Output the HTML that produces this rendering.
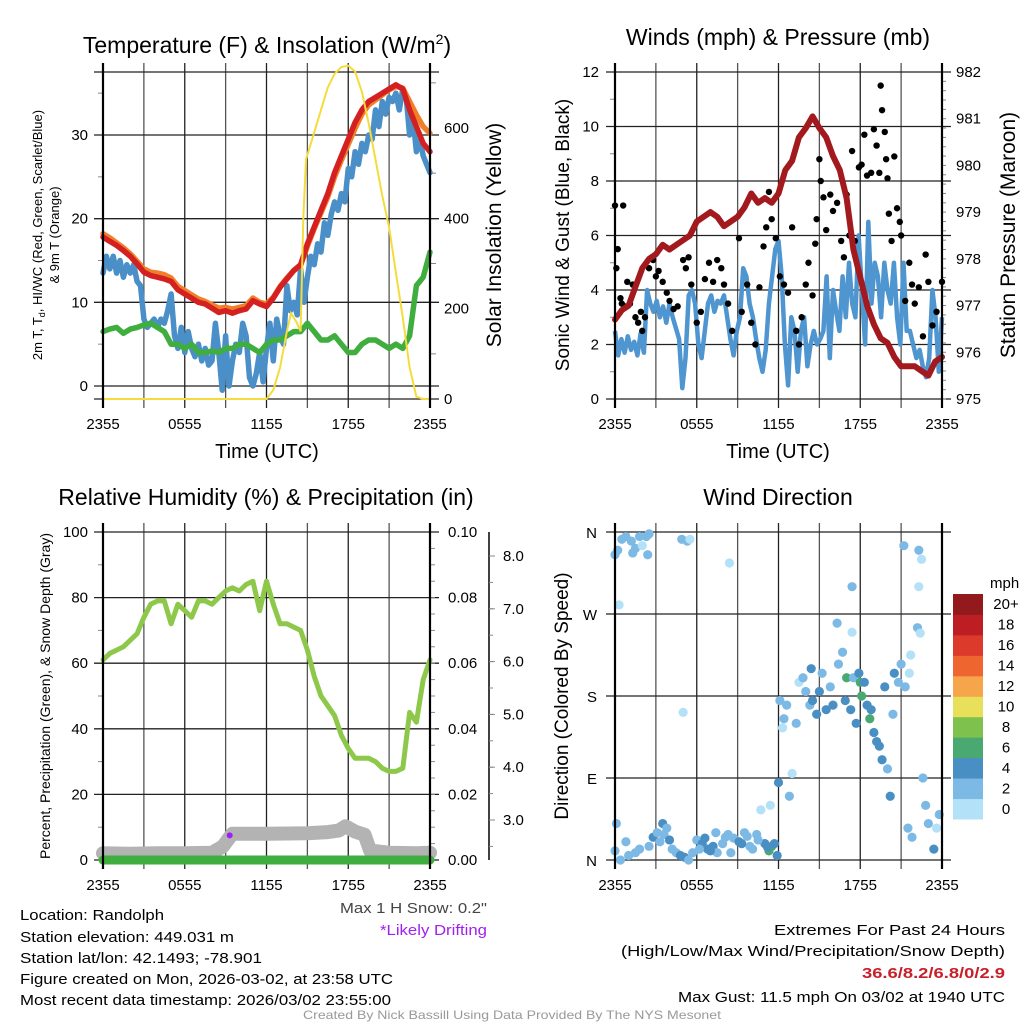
<!DOCTYPE html>
<html><head><meta charset="utf-8"><style>
html,body{margin:0;padding:0;background:#fff}
svg{display:block;font-family:"Liberation Sans",sans-serif}
</style></head><body>
<svg id="fig" width="1024" height="1024" viewBox="0 0 1024 1024">
<rect x="0" y="0" width="1024" height="1024" fill="#fff"/>
<g id="p1"></g>
<g id="p2"></g>
<g id="p3"></g>
<g id="p4"></g>

<text x="267" y="53" font-size="23" text-anchor="middle">Temperature (F) &amp; Insolation (W/m<tspan font-size="14" dy="-9">2</tspan><tspan dy="9">)</tspan></text>
<text x="778" y="45" font-size="23" text-anchor="middle">Winds (mph) &amp; Pressure (mb)</text>
<text x="266" y="505" font-size="23" text-anchor="middle">Relative Humidity (%) &amp; Precipitation (in)</text>
<text x="778" y="505" font-size="23" text-anchor="middle">Wind Direction</text>

<text x="267" y="458" font-size="20" text-anchor="middle">Time (UTC)</text>
<text x="778" y="458" font-size="20" text-anchor="middle">Time (UTC)</text>

<text transform="translate(42,235) rotate(-90)" font-size="13" text-anchor="middle">2m T, T<tspan font-size="9" dy="3">d</tspan><tspan dy="-3">, HI/WC (Red, Green, Scarlet/Blue)</tspan></text>
<text transform="translate(59,235) rotate(-90)" font-size="13" text-anchor="middle">&amp; 9m T (Orange)</text>
<text transform="translate(501,235) rotate(-90)" font-size="21" text-anchor="middle">Solar Insolation (Yellow)</text>
<text transform="translate(569,235) rotate(-90)" font-size="19" text-anchor="middle">Sonic Wind &amp; Gust (Blue, Black)</text>
<text transform="translate(1015,235) rotate(-90)" font-size="21" text-anchor="middle">Station Pressure (Maroon)</text>
<text transform="translate(50,696) rotate(-90)" font-size="14" text-anchor="middle">Percent, Precipitation (Green), &amp; Snow Depth (Gray)</text>
<text transform="translate(568,696) rotate(-90)" font-size="19" text-anchor="middle">Direction (Colored By Speed)</text>
<text x="990" y="588" font-size="15">mph</text>

<g font-size="15">
<text x="20" y="920" textLength="144" lengthAdjust="spacingAndGlyphs">Location: Randolph</text>
<text x="20" y="942" textLength="214" lengthAdjust="spacingAndGlyphs">Station elevation: 449.031 m</text>
<text x="20" y="963" textLength="242" lengthAdjust="spacingAndGlyphs">Station lat/lon: 42.1493; -78.901</text>
<text x="20" y="984" textLength="373" lengthAdjust="spacingAndGlyphs">Figure created on Mon, 2026-03-02, at 23:58 UTC</text>
<text x="20" y="1005" textLength="371" lengthAdjust="spacingAndGlyphs">Most recent data timestamp: 2026/03/02 23:55:00</text>
<text x="340" y="913" fill="#444" textLength="147" lengthAdjust="spacingAndGlyphs">Max 1 H Snow: 0.2"</text>
<text x="380" y="935" fill="#a020f0" textLength="107" lengthAdjust="spacingAndGlyphs">*Likely Drifting</text>
<text x="774" y="935" textLength="231" lengthAdjust="spacingAndGlyphs">Extremes For Past 24 Hours</text>
<text x="621" y="956" textLength="384" lengthAdjust="spacingAndGlyphs">(High/Low/Max Wind/Precipitation/Snow Depth)</text>
<text x="862" y="978" fill="#c8202a" font-weight="bold" textLength="143" lengthAdjust="spacingAndGlyphs">36.6/8.2/6.8/0/2.9</text>
<text x="678" y="1002" textLength="327" lengthAdjust="spacingAndGlyphs">Max Gust: 11.5 mph On 03/02 at 1940 UTC</text>
<text x="303" y="1019" font-size="12" fill="#999" textLength="418" lengthAdjust="spacingAndGlyphs">Created By Nick Bassill Using Data Provided By The NYS Mesonet</text>
</g>
</svg>
<script>
// ---------- DATA ----------
var timeTicks = ["2355","0555","1155","1755","2355"];
var hh = [0,0.5,1,1.5,2,2.5,3,3.5,4,4.5,5,5.5,6,6.5,7,7.5,8,8.5,9,9.5,10,10.5,11,11.5,12,12.5,13,13.5,14,14.5,15,15.5,16,16.5,17,17.5,18,18.5,19,19.5,20,20.5,21,21.5,22,22.5,23,23.5,24];
var tempRed = [17.8,17.3,16.8,16.2,15.5,14.6,13.6,13.2,13.0,12.8,12.5,11.5,11.0,10.5,10.0,9.8,9.3,8.8,9.0,8.7,9.0,9.2,10.2,9.8,9.5,10.5,11.8,12.8,13.8,14.5,17.0,19.0,21.0,23.0,25.5,27.5,29.5,31.5,33.0,34.0,34.5,35.0,35.5,36.0,35.5,33.0,31.0,29.0,28.0];
var temp9m = [18.2,17.7,17.1,16.5,15.8,14.9,14.0,13.6,13.5,13.3,12.9,11.9,11.4,10.9,10.4,10.1,9.7,9.3,9.4,9.2,9.4,9.6,10.5,10.0,9.8,10.6,11.9,12.9,13.8,14.4,16.7,18.8,20.7,22.6,25.0,27.0,28.9,30.8,32.5,33.6,34.2,34.8,35.4,35.8,35.6,34.0,32.4,31.0,30.2];
var dewT = [0,0.25,0.5,0.75,1,1.25,1.5,1.75,2,2.25,2.5,2.75,3,3.25,3.5,3.75,4,4.25,4.5,4.75,5,5.25,5.5,5.75,6,6.25,6.5,6.75,7,7.25,7.5,7.75,8,8.25,8.5,8.75,9,9.25,9.5,9.75,10,10.25,10.5,10.75,11,11.25,11.5,11.75,12,12.25,12.5,12.75,13,13.25,13.5,13.75,14,14.25,14.5,14.75,15,15.25,15.5,15.75,16,16.25,16.5,16.75,17,17.25,17.5,17.75,18,18.25,18.5,18.75,19,19.25,19.5,19.75,20,20.25,20.5,20.75,21,21.25,21.5,21.75,22,22.25,22.5,22.75,23,23.25,23.5,23.75,24];
var dewBlue = [13.5,15.5,14,15.5,13.5,15,13,14.5,13.5,14.5,12.5,12,8,7,7.5,8,7,8,7.5,9,11,6,4.5,7,4,6.5,4.5,3.5,5,3,4.5,2.5,3,7.5,4,-0.5,6,0,3,5,4,7.5,6,1,0,1.5,4,0.5,4.5,7.5,3,8,6,5,12,9,10,8.5,14,10,13,15.5,14.5,17,16,19.5,18,20.5,22,21,23,22,26,25,28,26.5,29,28,30,29.5,33,31,34,32.5,34.5,34,35,33,35.5,34.5,30,32,28,29.5,27.5,26.5,25.5];
var chillGreen = [6.5,6.8,7,6.3,6.8,7,7.3,7.5,7,6.5,5,5,4.5,5,4,4,4.2,4,4.5,4.5,5,5,4.5,4,5,5.5,5.5,6,6.5,6.5,7.5,6.5,5.5,5.5,6,5,4,4,5,5.5,5.5,5,4.5,5,4.5,6,12,13,16];
var solarT = [0,12,12.5,13,13.5,13.8,14.2,14.5,14.7,14.9,15.5,16,16.5,17,17.5,18,18.5,19,19.5,20,20.5,21,21.5,22,22.5,23,23.5,24];
var solarW = [0,0,20,70,150,190,170,150,400,530,590,640,690,720,735,738,725,680,610,530,450,380,280,180,70,5,0,0];

var pressure = [976.7,976.9,977.0,977.4,977.8,978.0,978.1,978.3,978.2,978.3,978.4,978.5,978.8,978.9,979.0,978.9,978.7,978.8,978.9,979.1,979.4,979.2,979.3,979.2,979.4,979.9,980.1,980.6,980.8,981.05,980.8,980.6,980.2,979.9,979.3,978.2,977.6,977.0,976.6,976.3,976.2,975.9,975.7,975.7,975.7,975.6,975.5,975.8,975.9];
var windSpeed = [2.5,1.6,2.2,1.7,2.3,1.8,2.1,1.6,2.4,1.7,4.0,3.5,3.2,3.6,3.0,3.4,2.8,3.5,3.0,2.6,2.2,0.4,1.5,3.8,4.0,3.5,2.0,1.5,2.5,3.5,3.8,3.2,3.6,3.5,3.8,3.0,2.2,1.6,2.5,3.0,4.8,4.5,3.5,3.0,2.2,1.5,1.0,1.8,3.5,4.5,5.5,5.8,4.5,2.0,0.5,3.0,2.5,1.0,2.5,3.0,1.2,2.0,2.5,2.0,2.2,2.5,4.5,1.5,4.0,3.2,2.5,4.5,3.0,5.0,3.5,3.0,6.0,4.0,2.0,6.5,3.5,5.0,4.5,3.0,5.0,4.0,3.5,5.0,3.0,2.0,5.0,2.5,2.5,2.0,1.5,1.8,1.2,0.8,1.5,4.0,3.0,1.0,3.0];
var gustT = [0,0.1,0.2,0.4,0.5,0.6,0.7,0.9,1.1,1.3,1.5,1.7,1.9,2.0,2.2,2.5,2.8,3.0,3.2,3.5,3.8,4.0,4.3,4.6,5.0,5.2,5.4,5.6,6.0,6.3,6.6,6.9,7.2,7.5,7.8,8.0,8.3,8.6,9.1,9.3,9.7,10.0,10.3,10.6,10.9,11.1,11.3,11.5,11.8,12.1,12.4,12.7,13.0,13.3,13.5,13.7,14.0,14.2,14.5,14.7,14.8,15.0,15.1,15.3,15.5,15.8,16.0,16.3,16.6,16.8,17.0,17.2,17.4,17.6,17.9,18.1,18.3,18.5,18.8,19.0,19.2,19.4,19.5,19.6,19.8,19.9,20.0,20.1,20.3,20.5,20.7,20.9,21.0,21.3,21.6,21.8,22.0,22.3,22.6,22.8,23.0,23.3,23.6,24.0];
var gustV = [7.1,4.8,5.5,3.7,3.5,7.1,3.4,4.3,3.5,4.2,3.0,2.8,3.2,2.5,3.0,4.8,5.1,4.5,4.7,4.3,3.9,3.6,3.3,3.4,5.1,4.8,5.2,4.2,2.8,3.2,4.4,5.0,4.3,5.1,4.8,4.2,3.5,2.5,5.9,3.2,4.2,2.8,2.0,4.1,5.6,6.3,7.6,6.6,5.9,4.5,4.2,3.9,6.3,2.5,2.0,3.0,4.2,5.0,3.8,5.7,6.6,8.8,8.0,7.4,6.2,7.5,6.9,7.2,5.8,5.2,7.5,6.0,9.1,5.8,8.5,8.6,9.7,8.2,8.3,9.9,9.3,8.3,11.5,10.6,9.8,8.8,8.1,6.8,5.8,8.9,7.0,6.5,6.0,3.6,5.0,4.2,3.5,4.1,2.3,5.3,4.3,2.7,3.2,4.3];

var rh = [61,63,64,65,67,69,74,78,79,79,72,78,76,74,79,79,78,80,82,83,82,84,85,76,85,78,72,72,71,70,64,56,50,47,44,38,34,31,31,31,30,28,27,27,28,45,42,55,61];
var snowT = [0,2,4,6,8,8.8,9.5,12,15,16.5,17.3,17.8,18.5,19.2,19.6,21,23,24];
var snowD = [2.37,2.36,2.37,2.37,2.38,2.5,2.74,2.74,2.75,2.77,2.8,2.88,2.78,2.72,2.42,2.38,2.37,2.38];
var precip = [0,0,0,0,0,0,0,0,0,0,0,0,0,0,0,0,0,0,0,0,0,0,0,0,0];
var driftT = [9.3];
var driftPct = [7.5];
var pctTicks = [0,20,40,60,80,100];
var precipTicks = ["0.00","0.02","0.04","0.06","0.08","0.10"];
var snowTicks = [3,4,5,6,7,8];

var dirT = [0,0.2,0.5,0.8,1.2,1.5,1.8,2.0,2.3,2.5,2.4,1.3,0.3,0,0.1,0.4,0.8,1.0,1.5,1.8,2.5,2.8,3.1,3.5,3.8,4.2,4.5,4.8,5.1,5.4,5.7,6.0,6.4,6.8,7.2,7.5,7.9,8.3,8.7,9.1,9.5,9.9,10.4,10.7,11.0,11.3,11.5,11.7,11.9,4.9,5.3,5.5,8.4,5.0,12.0,12.3,12.4,12.1,12.6,12.8,13.0,13.3,13.5,13.8,14.0,14.3,14.5,14.8,15.0,15.2,15.5,15.8,16.0,16.3,16.4,16.7,16.9,17.0,17.3,17.5,17.7,17.9,18.0,18.1,18.3,18.5,18.7,18.8,19.0,19.2,19.4,19.6,19.8,20.0,20.2,20.4,20.5,20.8,21.0,21.3,21.6,21.7,17.4,14.4,17.4,11.4,21.2,22.3,22.5,22.3,22.2,22.4,22.6,22.8,23.0,21.5,21.8,23.4,23.6,23.8,3.3,3.6,4.0,6.2,6.6,7.0,7.4,8.1,8.5,9.3,9.7,10.1,10.5,11.2];
var dirDeg = [335,340,352,355,350,342,355,345,355,358,335,337,280,10,40,0,20,5,8,12,15,25,30,40,35,12,8,5,3,0,8,22,18,12,15,8,18,28,24,20,30,15,28,55,18,10,15,18,5,352,350,352,326,162,85,145,155,175,170,70,95,150,195,200,185,170,175,160,185,205,165,190,170,260,215,228,175,200,165,200,150,205,195,180,195,170,155,165,140,130,125,110,190,100,70,160,205,195,215,190,205,225,250,210,300,60,345,340,330,300,255,249,90,60,40,35,25,12,35,50,20,28,22,12,24,10,30,25,8,18,26,12,22,14];
var dirSpd = [3,3,3,3,3,3,3,1,3,3,3,3,1,3,3,3,3,3,3,3,3,4,3,4,3,3,3,4,4,3,3,3,4,4,4,3,3,3,3,4,3,3,3,1,4,6,6,4,4,3,3,1,1,1,4,1,3,3,3,3,1,3,1,3,3,3,4,4,4,3,4,3,4,3,3,3,4,6,4,3,4,4,6,6,4,4,6,4,4,4,4,4,4,3,4,3,4,3,3,3,1,1,1,4,3,1,3,3,1,1,3,1,3,3,3,3,3,4,1,3,3,3,4,3,4,4,3,3,3,4,3,3,3,4];
var dirTicks = ["N","E","S","W","N"];
var cbLabels = ["0","2","4","6","8","10","12","14","16","18","20+"];
var cbColors = ["#b3e1f7","#7cb9e4","#4a8fc4","#4aa872","#7ec14c","#e8e05a","#f6a54a","#ef6530","#dc3a2a","#bd1e24","#921a1d"];

// ---------- HELPERS ----------
var NS="http://www.w3.org/2000/svg";
function mk(tag, at, parent){var e=document.createElementNS(NS,tag);for(var k in at)e.setAttribute(k,at[k]);parent.appendChild(e);return e;}
function lin(d0,d1,r0,r1){return function(v){return r0+(v-d0)/(d1-d0)*(r1-r0);};}
function pathD(xs,ys,sx,sy){var s="";for(var i=0;i<xs.length;i++){s+=(i?"L":"M")+sx(xs[i]).toFixed(1)+","+sy(ys[i]).toFixed(1);}return s;}
function idxT(arr){var o=[];for(var i=0;i<arr.length;i++)o.push(i*24/(arr.length-1));return o;}

function frame(g, X0, X1, Y0, Y1, hLines){
  var sx=lin(0,24,X0,X1);
  for(var h=0;h<=24;h+=3){
    var l=mk("line",{x1:sx(h),x2:sx(h),y1:Y0-9,y2:Y1+9,stroke:(h%6==0?"#222":"#555"),"stroke-width":1.3},g);
    
    
  }
  for(var i=0;i<hLines.length;i++){
    var hl=mk("line",{x1:X0-9,x2:X1+9,y1:hLines[i],y2:hLines[i],stroke:"#222","stroke-width":1.3},g);
    
    
  }
  for(var j=0;j<timeTicks.length;j++){
    var t=mk("text",{x:sx(j*6),y:Y1+30,"font-size":15,"text-anchor":"middle"},g);
    t.textContent=timeTicks[j];
    
    
  }
  return sx;
}
function axisLines(g,X0,X1,Y0,Y1){
  var a=mk("line",{x1:X0,x2:X0,y1:Y0-9,y2:Y1+9,stroke:"#000","stroke-width":2.2},g);
  
  
  var b=mk("line",{x1:X1,x2:X1,y1:Y0-9,y2:Y1+9,stroke:"#000","stroke-width":2.2},g);
  
  
}
function label(g,x,y,txt,anchor,size){
  var t=mk("text",{x:x,y:y,"font-size":size||15,"text-anchor":anchor},g);
  t.textContent=txt;
  
  
  return t;
}
function minor(g,x,y,len){
  var m=mk("line",{x1:x,x2:x+len,y1:y,y2:y,stroke:"#888","stroke-width":1},g);
  
  
}

// ---------- PANEL 1 ----------
(function(){
  var g=document.getElementById("p1");
  var X0=103,X1=430,Y0=72,Y1=399;
  var syT=lin(0,30,386,135), syS=lin(0,600,399,128);
  var sx=frame(g,X0,X1,Y0,Y1,[Y0,syT(0),syT(10),syT(20),syT(30),Y1]);
  for(var v=0;v<=30;v+=10)label(g,88,syT(v)+5,String(v),"end");
  for(var w=0;w<=600;w+=200)label(g,444,syS(w)+5,String(w),"start");
  for(var w2=100;w2<=700;w2+=200)minor(g,X1,syS(w2),6);
  for(var v2=5;v2<=35;v2+=10)minor(g,X0-5,syT(v2),5);
  var series=[[dewT,dewBlue,"#4a8fc8","dewpoint-line"],[hh,chillGreen,"#3fae3f","windchill-line"],[hh,temp9m,"#f07f2a","temp-9m-line"],[hh,tempRed,"#d42020","temp-2m-line"]];
  for(var i=0;i<series.length;i++){
    var p=mk("path",{d:pathD(series[i][0],series[i][1],sx,syT),fill:"none",stroke:series[i][2],"stroke-width":5.5,"stroke-linejoin":"round","stroke-linecap":"round"},g);
    
    
  }
  var s=mk("path",{d:pathD(solarT,solarW,sx,syS),fill:"none",stroke:"#f5dc3c","stroke-width":2},g);
  
  
  axisLines(g,X0,X1,Y0,Y1);
})();

// ---------- PANEL 2 ----------
(function(){
  var g=document.getElementById("p2");
  var X0=615,X1=942,Y0=72,Y1=399;
  var syW=lin(0,12,399,72), syP=lin(975,982,399,72);
  var hl=[];for(var v=0;v<=12;v+=2)hl.push(syW(v));
  var sx=frame(g,X0,X1,Y0,Y1,hl);
  for(var v1=0;v1<=12;v1+=2)label(g,599,syW(v1)+5,String(v1),"end");
  for(var p=975;p<=982;p++)label(g,956,syP(p)+5,String(p),"start");
  for(var v3=1;v3<12;v3+=2)minor(g,X0-5,syW(v3),5);
  for(var p2=975;p2<982;p2+=0.2)minor(g,X1,syP(p2),4);
  var wl=mk("path",{d:pathD(idxT(windSpeed),windSpeed,sx,syW),fill:"none",stroke:"#4f95d0","stroke-width":4.5,"stroke-linejoin":"round"},g);
  
  
  for(var i=0;i<gustT.length;i++){
    var c=mk("circle",{cx:sx(gustT[i]),cy:syW(gustV[i]),r:3.2,fill:"#000"},g);
    
    
  }
  var pl=mk("path",{d:pathD(hh,pressure,sx,syP),fill:"none",stroke:"#a31a1e","stroke-width":6,"stroke-linejoin":"round","stroke-linecap":"round"},g);
  
  
  axisLines(g,X0,X1,Y0,Y1);
})();

// ---------- PANEL 3 ----------
(function(){
  var g=document.getElementById("p3");
  var X0=103,X1=430,Y0=532,Y1=860;
  var syR=lin(0,100,860,532), sySn=lin(3,8,820,556);
  var hl=[];for(var i=0;i<pctTicks.length;i++)hl.push(syR(pctTicks[i]));
  var sx=frame(g,X0,X1,Y0,Y1,hl);
  for(var j=0;j<pctTicks.length;j++){label(g,88,syR(pctTicks[j])+5,String(pctTicks[j]),"end");label(g,448,syR(pctTicks[j])+5,precipTicks[j],"start");}
  for(var m=10;m<100;m+=20)minor(g,X0-5,syR(m),5);
  for(var m2=5;m2<100;m2+=5)minor(g,X1,syR(m2),5);
  var sa=mk("line",{x1:489,x2:489,y1:532,y2:860,stroke:"#000","stroke-width":1.5},g);
  
  
  for(var k=0;k<snowTicks.length;k++){minor(g,489,sySn(snowTicks[k]),6);label(g,503,sySn(snowTicks[k])+5,snowTicks[k].toFixed(1),"start");}
  for(var k2=2.5;k2<8.5;k2+=0.5)minor(g,489,sySn(k2),4);
  var gr=mk("path",{d:pathD(snowT,snowD,sx,sySn),fill:"none",stroke:"#b3b3b3","stroke-width":14,"stroke-linejoin":"round","stroke-linecap":"round"},g);
  
  
  var pr=mk("path",{d:pathD(idxT(precip),precip.map(function(v){return v*1000;}),sx,syR),fill:"none",stroke:"#3fae3f","stroke-width":9,"stroke-linecap":"round"},g);
  
  
  var rl=mk("path",{d:pathD(hh,rh,sx,syR),fill:"none",stroke:"#8dc84a","stroke-width":5,"stroke-linejoin":"round","stroke-linecap":"round"},g);
  
  
  for(var d=0;d<driftT.length;d++){
    var dm=mk("circle",{cx:sx(driftT[d]),cy:syR(driftPct[d]),r:3,fill:"#a020f0"},g);
    
    
  }
  axisLines(g,X0,X1,Y0,Y1);
})();

// ---------- PANEL 4 ----------
(function(){
  var g=document.getElementById("p4");
  var X0=615,X1=942,Y0=532,Y1=860;
  var syD=lin(0,360,860,532);
  var hl=[];for(var i=0;i<dirTicks.length;i++)hl.push(syD(i*90));
  var sx=frame(g,X0,X1,Y0,Y1,hl);
  for(var j=0;j<dirTicks.length;j++)label(g,597,syD(j*90)+6,dirTicks[j],"end",15);
  for(var k=0;k<dirT.length;k++){
    var ci=Math.min(10,Math.floor(dirSpd[k]/2));
    var c=mk("circle",{cx:sx(dirT[k]),cy:syD(dirDeg[k]),r:4.6,fill:cbColors[ci]},g);
    
    
  }
  var top=594,bh=(819-594)/cbLabels.length;
  for(var b=0;b<cbLabels.length;b++){
    var yb=top+(cbLabels.length-1-b)*bh;
    var r=mk("rect",{x:953,y:yb,width:30,height:bh+0.5,fill:cbColors[b]},g);
    
    
    label(g,1006,yb+bh/2+5,cbLabels[b],"middle",15);
  }
  axisLines(g,X0,X1,Y0,Y1);
})();
</script>
</body></html>
